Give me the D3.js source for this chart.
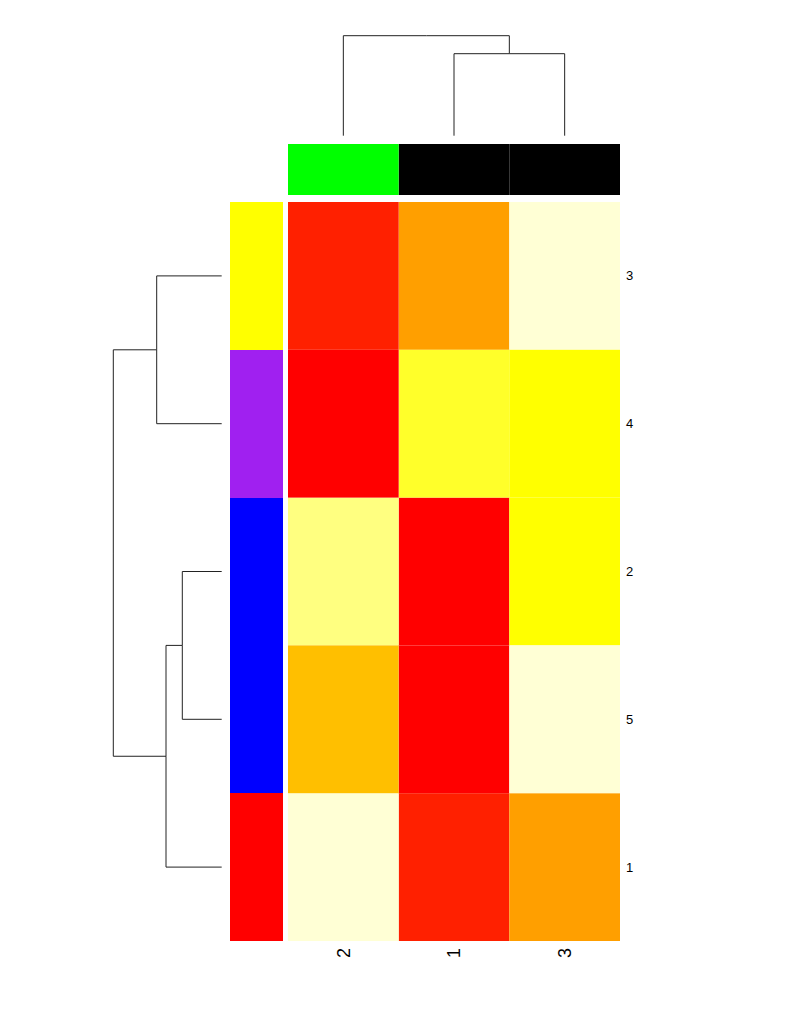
<!DOCTYPE html>
<html>
<head>
<meta charset="utf-8">
<script src="https://cdn.jsdelivr.net/npm/d3@7"></script>
<style>
  html, body { margin: 0; padding: 0; background: #fff; }
  svg { display: block; }
  text { font-family: "Liberation Sans", Arial, Helvetica, sans-serif; fill: #000; }
</style>
</head>
<body>
<svg id="chart" width="800" height="1035"></svg>
<script>
// ---------------- data ----------------
const rowLabels = ["1", "2", "3", "4", "5"];
const colLabels = ["1", "2", "3"];
// values[row][col], rows 1..5, cols 1..3 (palette index 0..11)
const values = [
  [1, 11, 5],
  [0, 10, 8],
  [5, 1, 11],
  [9, 0, 8],
  [0, 6, 11]
];
const rowOrder = ["3", "4", "2", "5", "1"];
const colOrder = ["2", "1", "3"];
const rowSideColors = ["#FF0000", "#0000FF", "#FFFF00", "#A020F0", "#0000FF"];
const colSideColors = ["#000000", "#00FF00", "#000000"];
const palette = ["#FF0000", "#FF2000", "#FF4000", "#FF6000", "#FF8000", "#FF9F00",
                 "#FFBF00", "#FFDF00", "#FFFF00", "#FFFF2A", "#FFFF80", "#FFFFD5"];
// dendrograms (merge heights)
const colTree = { height: 5.0, children: [ { name: "2" }, { height: 4.1, children: [ { name: "1" }, { name: "3" } ] } ] };
const rowTree = { height: 10.84, children: [
  { height: 6.5, children: [ { name: "3" }, { name: "4" } ] },
  { height: 5.57, children: [ { height: 3.94, children: [ { name: "2" }, { name: "5" } ] }, { name: "1" } ] }
] };

// ---------------- layout ----------------
const svg = d3.select("#chart");
const hm = { x0: 288, x1: 620, y0: 202, y1: 941 };

const x = d3.scaleBand().domain(colOrder).range([hm.x0, hm.x1]).padding(0);
const y = d3.scaleBand().domain(rowOrder).range([hm.y0, hm.y1]).padding(0);
const color = d3.scaleOrdinal().domain(d3.range(palette.length)).range(palette);

// heatmap cells
const cells = [];
rowLabels.forEach((r, i) => colLabels.forEach((c, j) => cells.push({ r, c, v: values[i][j] })));
svg.append("g").selectAll("rect").data(cells).join("rect")
  .attr("x", d => x(d.c)).attr("y", d => y(d.r))
  .attr("width", x.bandwidth()).attr("height", y.bandwidth())
  .attr("fill", d => color(d.v));

// column side colours
svg.append("g").selectAll("rect").data(colLabels).join("rect")
  .attr("x", d => x(d)).attr("y", 144)
  .attr("width", x.bandwidth()).attr("height", 51)
  .attr("fill", (d, i) => colSideColors[i]);

// row side colours
svg.append("g").selectAll("rect").data(rowLabels).join("rect")
  .attr("x", 230).attr("y", d => y(d))
  .attr("width", 53).attr("height", y.bandwidth())
  .attr("fill", (d, i) => rowSideColors[i])
  .attr("shape-rendering", "crispEdges");

// row labels (right)
svg.append("g").selectAll("text").data(rowOrder).join("text")
  .attr("x", 626).attr("y", d => y(d) + y.bandwidth() / 2)
  .attr("dy", "0.35em").attr("font-size", 13).text(d => d);

// column labels (bottom, rotated)
svg.append("g").selectAll("text").data(colOrder).join("text")
  .attr("transform", d => `translate(${x(d) + x.bandwidth() / 2},948) rotate(-90)`)
  .attr("text-anchor", "end").attr("dy", "0.35em").attr("font-size", 18).text(d => d);

// ---------------- dendrograms ----------------
function layoutTree(tree, leafPos) {
  const root = d3.hierarchy(tree);
  root.eachAfter(n => {
    if (!n.children) { n.pos = leafPos(n.data.name); n.h = 0; }
    else { n.pos = d3.mean(n.children, c => c.pos); n.h = n.data.height; }
  });
  return root;
}

// column dendrogram
const colRoot = layoutTree(colTree, name => x(name) + x.bandwidth() / 2);
const colH = d3.scaleLinear().domain([0, colTree.height]).range([135.7, 35.7]);
svg.append("g").attr("fill", "none").attr("stroke", "#222").attr("stroke-width", 1)
  .selectAll("path").data(colRoot.descendants().filter(n => n.parent)).join("path")
  .attr("d", n => `M${n.pos},${colH(n.h)}V${colH(n.parent.h)}H${n.parent.pos}`);

// row dendrogram
const rowRoot = layoutTree(rowTree, name => y(name) + y.bandwidth() / 2);
const rowH = d3.scaleLinear().domain([0, rowTree.height]).range([221.7, 113.3]);
svg.append("g").attr("fill", "none").attr("stroke", "#222").attr("stroke-width", 1)
  .selectAll("path").data(rowRoot.descendants().filter(n => n.parent)).join("path")
  .attr("d", n => `M${rowH(n.h)},${n.pos}H${rowH(n.parent.h)}V${n.parent.pos}`);
</script>
</body>
</html>
